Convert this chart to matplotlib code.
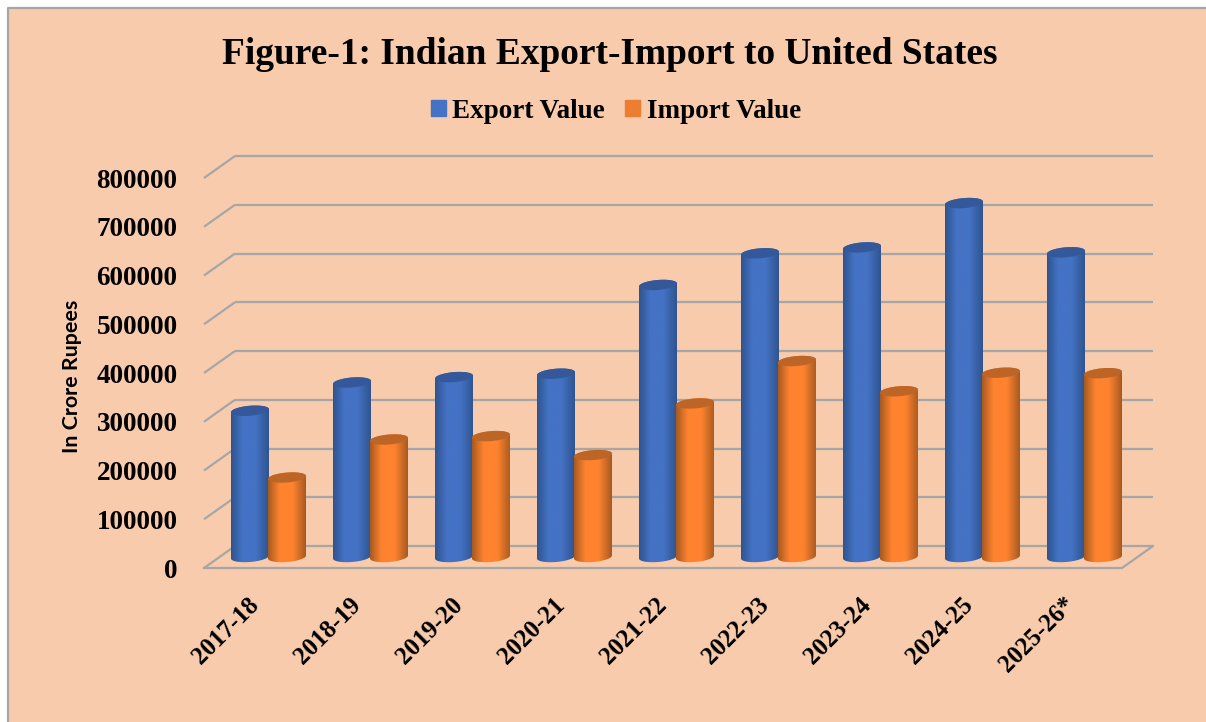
import numpy as np
import matplotlib
matplotlib.use('Agg')
import matplotlib.pyplot as plt
from matplotlib.colors import LinearSegmentedColormap
from matplotlib.patches import Patch, PathPatch, Polygon
from matplotlib.path import Path

years = ['2017-18', '2018-19', '2019-20', '2020-21', '2021-22', '2022-23', '2023-24', '2024-25', '2025-26*']
export_value = [300000, 358000, 369000, 376000, 558000, 623000, 635000, 726000, 625000]
import_value = [163000, 241000, 248000, 209000, 315000, 402000, 340000, 378000, 377000]
y_ticks = [0, 100000, 200000, 300000, 400000, 500000, 600000, 700000, 800000]

W, H = 1206, 722
bg = '#F8CBAD'
grid = '#A6A6A6'

# plot box in pixels, front edge of the 3d floor
left, right, top, bottom = 204, 1122, 178, 568
px_x = len(years) / (right - left)
px_y = 800000 / (bottom - top)

# 3d depth of back wall and of the bars
wall_dx, wall_dy = 31 * px_x, 22 * px_y
bar_dx, bar_dy = 14 * px_x, 11 * px_y
bar_w = 38 * px_x
ell_b = 5 * px_y
ell_tilt = 1.5 * px_y

fig = plt.figure(figsize=(W / 100, H / 100), dpi=100, facecolor='white')

# sheet behind the chart, border only on the top and left side
fig.patches.append(Polygon([[8 / W, 0], [8 / W, 1 - 8 / H], [1, 1 - 8 / H], [1, 0]], closed=True,
                           transform=fig.transFigure, facecolor=bg, edgecolor='none', zorder=-2))
fig.add_artist(plt.Line2D([8 / W, 8 / W, 1], [0, 1 - 8 / H, 1 - 8 / H], color=grid, lw=1.6, zorder=-1))

ax = fig.add_axes([left / W, 1 - bottom / H, (right - left) / W, (bottom - top) / H])
ax.patch.set_visible(False)
for s in ax.spines.values():
    s.set_visible(False)

# back wall lines, side lines
for v in y_ticks:
    ax.plot([0, wall_dx], [v, v + wall_dy], color=grid, lw=1.6, clip_on=False, zorder=1, solid_capstyle='butt')
    ax.plot([wall_dx, len(years) + wall_dx], [v + wall_dy, v + wall_dy], color=grid, lw=1.6, clip_on=False, zorder=1,
            solid_capstyle='butt')
ax.plot([0, len(years), len(years) + wall_dx], [0, 0, wall_dy], color=grid, lw=1.6, clip_on=False, zorder=1)


def cylinder(cx, val, dark, mid, cap, z):
    cmap = LinearSegmentedColormap.from_list('c', [(0, dark), (0.3, mid), (0.65, mid), (1, dark)], N=64)
    a = bar_w / 2
    x0, x1 = cx - a, cx + a
    y0 = bar_dy
    y1 = val + bar_dy
    t1 = np.linspace(np.pi, 2 * np.pi, 30)
    t2 = np.linspace(0, np.pi, 30)
    xs = np.r_[cx + a * np.cos(t1), cx + a * np.cos(t2)]
    ys = np.r_[y0 + ell_b * np.sin(t1) + ell_tilt * np.cos(t1), y1 + ell_b * np.sin(t2) + ell_tilt * np.cos(t2)]
    body = PathPatch(Path(np.c_[xs, ys]), facecolor='none', edgecolor='none', transform=ax.transData)
    ax.add_patch(body)
    im = ax.imshow(np.linspace(0, 1, 64).reshape(1, -1), cmap=cmap, aspect='auto',
                   extent=[x0, x1, y0 - ell_b * 1.5, y1 + ell_b * 1.5], zorder=z, interpolation='bilinear')
    im.set_clip_path(body)
    t = np.linspace(0, 2 * np.pi, 60)
    ax.fill(cx + a * np.cos(t), y1 + ell_b * np.sin(t) + ell_tilt * np.cos(t), color=cap, lw=0, zorder=z + 0.5,
            clip_on=False)


for i in range(len(years)):
    cx = i + 0.5 + bar_dx
    cylinder(cx - bar_w / 2, export_value[i], '#2F5490', '#4472C4', '#34589A', 3)
    cylinder(cx + bar_w / 2 - 1 * px_x, import_value[i], '#A85A20', '#FF832F', '#BC6526', 4)

ax.set_xlim(0, len(years))
ax.set_ylim(0, 800000)
ax.set_yticks(y_ticks)
ax.set_yticklabels([str(v) for v in y_ticks], fontfamily='Liberation Serif', fontweight='bold', fontsize=19.5)
# labels sit a little left of the category centres
ax.set_xticks(np.arange(len(years)) + 0.5 - 8 * px_x)
ax.set_xticklabels(years, rotation=45, ha='right', rotation_mode='anchor', fontfamily='Liberation Serif',
                   fontweight='bold', fontsize=18)
ax.tick_params(length=0)
ax.tick_params(axis='y', pad=19)
ax.tick_params(axis='x', pad=18)
ax.set_ylabel('In Crore Rupees', fontfamily='Lato', fontweight='bold', fontsize=15.4)
ax.yaxis.set_label_coords((82 - left) / (right - left), (bottom - 376) / (bottom - top))

fig.text(610 / W, 1 - 55 / H, 'Figure-1: Indian Export-Import to United States', ha='center', va='center',
         fontfamily='Liberation Serif', fontweight='bold', fontsize=26.9)

handles = [Patch(color='#4472C4', label='Export Value'), Patch(color='#ED7D31', label='Import Value')]
fig.legend(handles=handles, loc='center', bbox_to_anchor=(616 / W, 1 - 111 / H), ncol=2, frameon=False,
           prop={'family': 'Liberation Serif', 'weight': 'bold', 'size': 19.5},
           handlelength=0.53, handleheight=0.53, handletextpad=0.25, columnspacing=0.75)

fig.savefig('out.png', dpi=100, facecolor=fig.get_facecolor())
